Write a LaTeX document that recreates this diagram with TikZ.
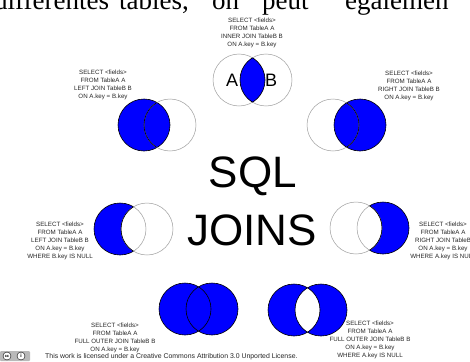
\documentclass[tikz,border=0pt]{standalone}
\usepackage{fontspec}
\setmainfont{Liberation Serif}
\setsansfont{Liberation Sans}
\begin{document}
\begin{tikzpicture}[x=1pt,y=-1pt,
  query/.style={font=\sffamily\fontsize{6.2}{8}\selectfont,align=center,inner sep=0pt,text=black!85},
  word/.style={anchor=base west,inner sep=0pt,font=\fontsize{27}{27}\selectfont},
  ring/.style={draw=gray!75,line width=0.5pt},
  edge/.style={draw=black,line width=0.6pt},
  set/.style={fill=blue}]
  \useasboundingbox (0,0) rectangle (470,361);
  \clip (0,0) rectangle (470,361);
  \fill[white] (0,0) rectangle (470,361);
  % page text cut at the top
  \node[word] (w1) at (-6,10) {différentes};
  \node[word] (w2) at (119,10) {tables,};
  \node[word] (w3) at (212,10) {on};
  \node[word] (w4) at (262,10) {peut};
  \node[word] (w5) at (345,10) {égalemen};
  % inner join
  \coordinate (ijA) at (239,80); \coordinate (ijB) at (266,80);
  \draw[ring] (ijA) circle[radius=26]; \draw[ring] (ijB) circle[radius=26];
  \begin{scope} \clip (ijA) circle[radius=26]; \fill[set] (ijB) circle[radius=26]; \draw[edge] (ijB) circle[radius=26]; \end{scope}
  \begin{scope} \clip (ijB) circle[radius=26]; \draw[edge] (ijA) circle[radius=26]; \end{scope}
  \node[font=\sffamily\fontsize{18}{18}\selectfont] (ijAl) at (232,80) {A};
  \node[font=\sffamily\fontsize{18}{18}\selectfont] (ijBl) at (271,80) {B};
  \node[query] (ijq) at (252,33) {SELECT <fields>\\FROM TableA A\\INNER JOIN TableB B\\ON A.key = B.key};
  % left join
  \coordinate (ljA) at (144,125); \coordinate (ljB) at (170,125);
  \fill[set] (ljA) circle[radius=26]; \draw[edge] (ljA) circle[radius=26]; \draw[ring] (ljB) circle[radius=26];
  \begin{scope} \clip (ljA) circle[radius=26]; \draw[edge] (ljB) circle[radius=26]; \end{scope}
  \node[query] (ljq) at (103,85) {SELECT <fields>\\FROM TableA A\\LEFT JOIN TableB B\\ON A.key = B.key};
  % right join
  \coordinate (rjA) at (333,125); \coordinate (rjB) at (360,125);
  \fill[set] (rjB) circle[radius=26]; \draw[edge] (rjB) circle[radius=26]; \draw[ring] (rjA) circle[radius=26];
  \begin{scope} \clip (rjB) circle[radius=26]; \draw[edge] (rjA) circle[radius=26]; \end{scope}
  \node[query] (rjq) at (409,86) {SELECT <fields>\\FROM TableA A\\RIGHT JOIN TableB B\\ON A.key = B.key};
  % title
  \node[font=\sffamily\fontsize{44}{44}\selectfont,anchor=base,inner sep=0pt] (sql) at (253,187) {SQL};
  \node[font=\sffamily\fontsize{44}{44}\selectfont,anchor=base,inner sep=0pt] (joins) at (252,245) {JOINS};
  % left join, B is null
  \coordinate (leA) at (120,229); \coordinate (leB) at (147,229);
  \fill[set] (leA) circle[radius=26]; \draw[edge] (leA) circle[radius=26];
  \fill[white] (leB) circle[radius=26]; \draw[ring] (leB) circle[radius=26];
  \begin{scope} \clip (leB) circle[radius=26]; \draw[ring] (leA) circle[radius=26]; \end{scope}
  \begin{scope} \clip (leA) circle[radius=26]; \draw[edge] (leB) circle[radius=26]; \end{scope}
  \node[query] (leq) at (60,241) {SELECT <fields>\\FROM TableA A\\LEFT JOIN TableB B\\ON A.key = B.key\\WHERE B.key IS NULL};
  % right join, A is null
  \coordinate (reA) at (356,228); \coordinate (reB) at (383,228);
  \fill[set] (reB) circle[radius=26]; \draw[edge] (reB) circle[radius=26];
  \fill[white] (reA) circle[radius=26]; \draw[ring] (reA) circle[radius=26];
  \begin{scope} \clip (reA) circle[radius=26]; \draw[ring] (reB) circle[radius=26]; \end{scope}
  \begin{scope} \clip (reB) circle[radius=26]; \draw[edge] (reA) circle[radius=26]; \end{scope}
  \node[query] (req) at (443,241) {SELECT <fields>\\FROM TableA A\\RIGHT JOIN TableB\\ON A.key = B.key\\WHERE A.key IS NULL};
  % full outer join
  \coordinate (foA) at (185,309); \coordinate (foB) at (212,309);
  \fill[set] (foA) circle[radius=26]; \fill[set] (foB) circle[radius=26];
  \draw[edge] (foA) circle[radius=26]; \draw[edge] (foB) circle[radius=26];
  \node[query] (foq) at (115,338) {SELECT <fields>\\FROM TableA A\\FULL OUTER JOIN TableB B\\ON A.key = B.key};
  % full outer join, either key is null
  \coordinate (fxA) at (294,310); \coordinate (fxB) at (321,310);
  \fill[set,even odd rule] (fxA) circle[radius=26] (fxB) circle[radius=26];
  \draw[edge] (fxA) circle[radius=26]; \draw[edge] (fxB) circle[radius=26];
  \node[query] (fxq) at (370,340) {SELECT <fields>\\FROM TableA A\\FULL OUTER JOIN TableB B\\ON A.key = B.key\\WHERE A.key IS NULL};
  % licence line
  \node[fill=gray!55,rounded corners=1pt,minimum width=30pt,minimum height=10pt,inner sep=0pt] (cc) at (15,356) {};
  \node[circle,draw=black,fill=white,line width=0.4pt,minimum size=8pt,inner sep=0pt,font=\sffamily\bfseries\fontsize{4}{4}\selectfont] (ccl) at (7,356) {cc};
  \node[circle,draw=black,fill=white,line width=0.4pt,minimum size=8pt,inner sep=0pt,font=\sffamily\bfseries\fontsize{5}{5}\selectfont] (byl) at (21,356) {i};
  \node[anchor=base west,inner sep=0pt,font=\sffamily\fontsize{6.9}{7}\selectfont,text=black!85] (lic) at (45,358.5) {This work is licensed under a Creative Commons Attribution 3.0 Unported License.};
\end{tikzpicture}
\end{document}
